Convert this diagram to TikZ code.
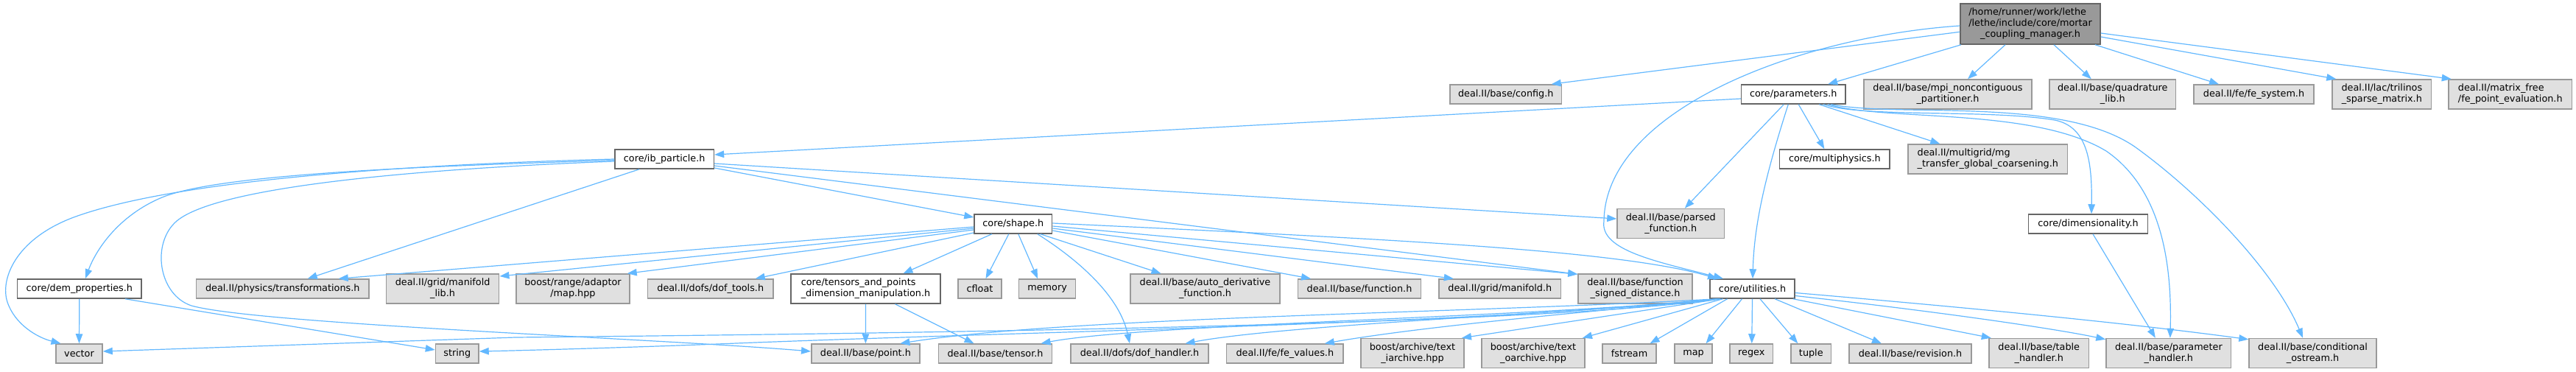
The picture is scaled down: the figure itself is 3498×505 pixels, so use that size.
\documentclass[tikz,border=0pt]{standalone}
\usepackage{fontspec}
\setmainfont{DejaVu Sans}
\usetikzlibrary{arrows.meta}
\definecolor{edgecol}{RGB}{99,184,255}
\definecolor{extfill}{RGB}{224,224,224}
\definecolor{extdraw}{RGB}{153,153,153}
\definecolor{docdraw}{RGB}{102,102,102}
\definecolor{rootfill}{RGB}{153,153,153}
\newcommand{\dfont}{\fontsize{12.8}{15}\selectfont}
\newcommand{\twol}[2]{\begin{tabular}{@{}l@{}}#1\\\multicolumn{1}{@{}c@{}}{#2}\end{tabular}}
\newcommand{\threel}[3]{\begin{tabular}{@{}l@{}}#1\\#2\\\multicolumn{1}{@{}c@{}}{#3}\end{tabular}}
\tikzset{
  box/.style={rectangle, draw, line width=1.5pt, inner sep=0pt, font=\dfont, text=black},
  ext/.style={box, fill=extfill, draw=extdraw},
  doc/.style={box, fill=white, draw=docdraw},
  root/.style={box, fill=rootfill, draw=docdraw},
  dep/.style={draw=edgecol, line width=1.2pt, -{Triangle[length=13pt,width=9.5pt]}},
  sz/.style 2 args={minimum width=#1pt, minimum height=#2pt}
}
\begin{document}
\begin{tikzpicture}[x=1pt,y=-1pt]
\useasboundingbox (0,0) rectangle (3498,505);
% rank 0
\node[root,sz={190}{55}] (main) at (2757,32.5) {\threel{/home/runner/work/lethe}{/lethe/include/core/mortar}{\_coupling\_manager.h}};
% rank 1
\node[ext,sz={151.5}{26}] (config) at (2044.75,128) {deal.II/base/config.h};
\node[doc,sz={141.5}{26}] (params) at (2435.25,128) {core/parameters.h};
\node[ext,sz={228}{40}] (mpi) at (2645,128) {\twol{deal.II/base/mpi\_noncontiguous}{\_partitioner.h}};
\node[ext,sz={171.5}{40}] (quad) at (2868.75,128) {\twol{deal.II/base/quadrature}{\_lib.h}};
\node[ext,sz={163}{26}] (fesys) at (3060.5,128) {deal.II/fe/fe\_system.h};
\node[ext,sz={134.6}{40}] (trili) at (3234.3,128) {\twol{deal.II/lac/trilinos}{\_sparse\_matrix.h}};
\node[ext,sz={167.5}{40}] (mfree) at (3408.75,128) {\twol{deal.II/matrix\_free}{/fe\_point\_evaluation.h}};
% rank 2
\node[doc,sz={134.4}{26}] (ib) at (902.2,216) {core/ib\_particle.h};
\node[doc,sz={149.3}{26}] (multi) at (2491.35,216) {core/multiphysics.h};
\node[ext,sz={216.6}{40}] (mg) at (2699.3,216) {\twol{deal.II/multigrid/mg}{\_transfer\_global\_coarsening.h}};
% rank 3
\node[doc,sz={105.6}{26}] (shape) at (1375.8,304) {core/shape.h};
\node[ext,sz={145.5}{40}] (parsed) at (2268.75,303.5) {\twol{deal.II/base/parsed}{\_function.h}};
\node[doc,sz={162.2}{26}] (dimen) at (2835.5,304) {core/dimensionality.h};
% rank 4
\node[doc,sz={168.3}{26}] (dem) at (107.85,392) {core/dem\_properties.h};
\node[ext,sz={234.5}{26}] (transf) at (383.75,392) {deal.II/physics/transformations.h};
\node[ext,sz={153.2}{40}] (manlib) at (601.1,392) {\twol{deal.II/grid/manifold}{\_lib.h}};
\node[ext,sz={154}{40}] (bmap) at (778,392) {\twol{boost/range/adaptor}{/map.hpp}};
\node[ext,sz={170.5}{26}] (doftools) at (964.75,392) {deal.II/dofs/dof\_tools.h};
\node[doc,sz={203}{40}] (tensdim) at (1175.5,392) {\twol{core/tensors\_and\_points}{\_dimension\_manipulation.h}};
\node[ext,sz={59}{26}] (cfloat) at (1330.5,392) {cfloat};
\node[ext,sz={77.2}{26}] (memory) at (1422.1,392) {memory};
\node[ext,sz={203}{40}] (autoder) at (1636.5,392) {\twol{deal.II/base/auto\_derivative}{\_function.h}};
\node[ext,sz={167}{26}] (func) at (1846,392) {deal.II/base/function.h};
\node[ext,sz={165.6}{26}] (manif) at (2036.8,392) {deal.II/grid/manifold.h};
\node[ext,sz={155}{40}] (fsd) at (2220.5,392) {\twol{deal.II/base/function}{\_signed\_distance.h}};
\node[doc,sz={115}{26}] (util) at (2379.5,392) {core/utilities.h};
% rank 5
\node[ext,sz={63}{26}] (vector) at (107.5,480) {vector};
\node[ext,sz={58.5}{26}] (string) at (620.75,480) {string};
\node[ext,sz={147.2}{26}] (point) at (1175.4,480) {deal.II/base/point.h};
\node[ext,sz={154.1}{26}] (tensor) at (1351.55,480) {deal.II/base/tensor.h};
\node[ext,sz={187}{26}] (dofh) at (1547.5,480) {deal.II/dofs/dof\_handler.h};
\node[ext,sz={158.4}{26}] (fevals) at (1744.8,480) {deal.II/fe/fe\_values.h};
\node[ext,sz={140}{40}] (tia) at (1918,479.5) {\twol{boost/archive/text}{\_iarchive.hpp}};
\node[ext,sz={140}{40}] (toa) at (2082,479.5) {\twol{boost/archive/text}{\_oarchive.hpp}};
\node[ext,sz={73}{26}] (fstream) at (2212.5,480) {fstream};
\node[ext,sz={51}{26}] (map) at (2299.5,480) {map};
\node[ext,sz={58.6}{26}] (regex) at (2378.3,480) {regex};
\node[ext,sz={54.6}{26}] (tuple) at (2459.3,480) {tuple};
\node[ext,sz={166}{26}] (revision) at (2594,480) {deal.II/base/revision.h};
\node[ext,sz={135.5}{40}] (table) at (2768.75,479.5) {\twol{deal.II/base/table}{\_handler.h}};
\node[ext,sz={169.7}{40}] (phandler) at (2944.85,479.5) {\twol{deal.II/base/parameter}{\_handler.h}};
\node[ext,sz={173}{40}] (condos) at (3140.5,479.5) {\twol{deal.II/base/conditional}{\_ostream.h}};

% main
\draw[dep] ([yshift=-10.8pt]main.west) -- ([xshift=62pt]config.north);
\draw[dep] ([xshift=-94pt]main.south) -- ([xshift=47pt]params.north);
\draw[dep] ([xshift=-34pt]main.south) -- ([xshift=27pt]mpi.north);
\draw[dep] ([xshift=32pt]main.south) -- ([xshift=-29pt]quad.north);
\draw[dep] ([xshift=88pt]main.south) -- ([xshift=-47.5pt]fesys.north);
\draw[dep] ([yshift=-17.5pt]main.east) -- ([xshift=-62pt]trili.north);
\draw[dep] ([yshift=-12.5pt]main.east) -- ([xshift=-80pt]mfree.north);
\draw[dep] ([yshift=-2.5pt]main.west) .. controls (2440,50) and (2180,150) .. (2178,300) .. controls (2172,340) and (2250,355) .. ([xshift=-39.5pt]util.north);
% parameters
\draw[dep] ([yshift=-6pt]params.west) -- ([yshift=6pt]ib.east);
\draw[dep] ([xshift=-13pt]params.south) -- ([xshift=19pt]parsed.north);
\draw[dep] ([xshift=-7pt]params.south) .. controls (2400,230) and (2382,300) .. ([xshift=0.5pt]util.north);
\draw[dep] ([xshift=7pt]params.south) -- ([xshift=-14pt]multi.north);
\draw[dep] ([xshift=35pt]params.south) -- ([xshift=-65pt]mg.north);
\draw[dep] ([xshift=41pt]params.south) .. controls (2530,160) and (2700,148) .. (2790,163) .. controls (2835,172) and (2841,220) .. ([xshift=4.5pt]dimen.north);
\draw[dep] ([xshift=47pt]params.south) .. controls (2560,165) and (2760,145) .. (2860,205) .. controls (2940,260) and (2949,370) .. ([xshift=2pt]phandler.north);
\draw[dep] ([xshift=51pt]params.south) .. controls (2580,160) and (2800,130) .. (2900,200) .. controls (2990,265) and (3090,370) .. ([xshift=-13.5pt]condos.north);
\draw[dep] ([xshift=6.5pt]dimen.south) -- ([xshift=-18pt]phandler.north);
% ib_particle
\draw[dep] (ib.west) .. controls (600,222) and (250,240) .. (100,295) .. controls (20,325) and (0,380) .. (10,410) .. controls (20,440) and (50,458) .. ([xshift=-25pt]vector.north);
\draw[dep] ([yshift=-1.5pt]ib.west) .. controls (600,225) and (300,235) .. (220,268) .. controls (160,293) and (130,340) .. ([xshift=8pt]dem.north);
\draw[dep] ([yshift=-3pt]ib.west) .. controls (600,228) and (300,250) .. (240,300) .. controls (205,330) and (215,400) .. (260,415) .. controls (350,440) and (900,460) .. ([yshift=3pt]point.west);
\draw[dep] ([xshift=-34pt]ib.south) -- ([xshift=34pt]transf.north);
\draw[dep] ([yshift=-6pt]ib.east) -- ([yshift=6.5pt]parsed.west);
\draw[dep] ([yshift=-9pt]ib.east) -- ([yshift=-1pt]fsd.north west);
\draw[dep] ([yshift=-12pt]ib.east) -- ([yshift=9pt]shape.west);
% dem_properties
\draw[dep] (dem.south) -- (vector.north);
\draw[dep] ([xshift=62pt]dem.south) -- ([yshift=5pt]string.west);
% shape
\draw[dep] ([yshift=-4pt]shape.west) -- ([xshift=76pt]transf.north);
\draw[dep] ([yshift=-6pt]shape.west) -- ([yshift=17pt]manlib.east);
\draw[dep] ([yshift=-8pt]shape.west) -- ([xshift=-4pt]bmap.north east);
\draw[dep] ([yshift=-12pt]shape.west) -- ([xshift=61pt]doftools.north);
\draw[dep] ([xshift=-29pt]shape.south) -- ([xshift=51pt]tensdim.north);
\draw[dep] ([xshift=-6pt]shape.south) -- ([xshift=8pt]cfloat.north);
\draw[dep] ([xshift=7pt]shape.south) -- ([xshift=-13pt]memory.north);
\draw[dep] ([xshift=33pt]shape.south) .. controls (1460,350) and (1520,400) .. ([xshift=-13.5pt]dofh.north);
\draw[dep] ([xshift=37pt]shape.south) -- ([xshift=-60pt]autoder.north);
\draw[dep] ([yshift=-9pt]shape.east) -- ([xshift=-66pt]func.north);
\draw[dep] ([yshift=-6pt]shape.east) -- ([xshift=-63pt]manif.north);
\draw[dep] ([yshift=-3pt]shape.east) -- ([yshift=-1pt]fsd.north west);
\draw[dep] ([yshift=1pt]shape.east) .. controls (1900,325) and (2200,340) .. ([xshift=-47.5pt]util.north);
% tensors_and_points
\draw[dep] (tensdim.south) -- (point.north);
\draw[dep] ([xshift=40pt]tensdim.south) -- ([xshift=-29pt]tensor.north);
% utilities
\draw[dep] ([xshift=-45pt]util.south) .. controls (2100,440) and (1300,452) .. (700,458) -- ([yshift=3pt]vector.east);
\draw[dep] ([xshift=-44pt]util.south) .. controls (2000,440) and (1400,450) .. (1000,466) .. controls (850,472) and (700,476) .. ([yshift=3pt]string.east);
\draw[dep] ([xshift=-48pt]util.south) .. controls (2000,425) and (1450,430) .. ([xshift=47pt]point.north);
\draw[dep] ([xshift=-47pt]util.south) .. controls (2100,430) and (1550,440) .. ([xshift=62pt]tensor.north);
\draw[dep] ([xshift=-46pt]util.south) .. controls (2150,425) and (1750,440) .. ([xshift=62pt]dofh.north);
\draw[dep] ([xshift=-45pt]util.south) .. controls (2200,420) and (1950,440) .. ([xshift=54pt]fevals.north);
\draw[dep] ([xshift=-43pt]util.south) -- ([xshift=67pt]tia.north);
\draw[dep] ([xshift=-40pt]util.south) -- ([xshift=67pt]toa.north);
\draw[dep] ([xshift=-34pt]util.south) -- ([xshift=28pt]fstream.north);
\draw[dep] ([xshift=-14pt]util.south) -- ([xshift=17pt]map.north);
\draw[dep] (util.south) -- ([xshift=0.5pt]regex.north);
\draw[dep] ([xshift=10.5pt]util.south) -- ([xshift=-18pt]tuple.north);
\draw[dep] ([xshift=30.5pt]util.south) -- ([xshift=-39pt]revision.north);
\draw[dep] ([xshift=-3pt]util.south east) -- ([xshift=-65pt]table.north);
\draw[dep] ([yshift=-9.5pt]util.east) .. controls (2650,425) and (2800,448) .. ([yshift=-2pt]phandler.north west);
\draw[dep] ([yshift=-5.5pt]util.east) .. controls (2700,420) and (2900,440) .. ([yshift=-2pt]condos.north west);
\end{tikzpicture}
\end{document}
